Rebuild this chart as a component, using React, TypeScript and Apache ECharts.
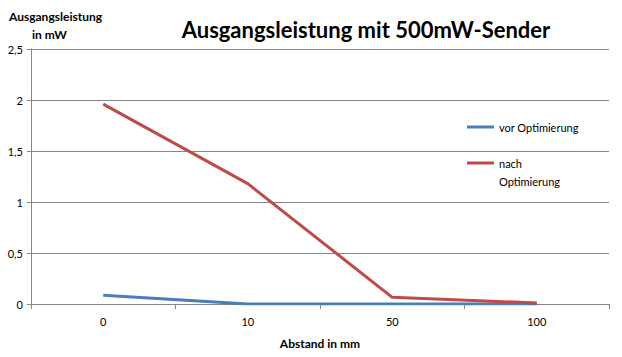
import React, { useEffect, useRef } from "react";
import * as echarts from "echarts";

const categories = ["0", "10", "50", "100"];
const vorOptimierung = [0.085, 0, 0, 0];
const nachOptimierung = [1.96, 1.18, 0.065, 0.01];
const seriesNames = ["vor Optimierung", "nach Optimierung"];

const FONT = "Lato, 'Liberation Sans', sans-serif";

const nameStyle = { fontSize: 12, fontWeight: "bold", fill: "#000", fontFamily: FONT };

export default function App() {
  const ref = useRef<HTMLDivElement>(null);
  useEffect(() => {
    const chart = echarts.init(ref.current!, null, { renderer: "svg" });
    chart.setOption({
      animation: false,
      textStyle: { fontFamily: FONT },
      title: {
        text: "Ausgangsleistung mit 500mW-Sender",
        left: 361,
        textAlign: "center",
        top: 13,
        textStyle: { fontSize: 22, fontWeight: "bold", color: "#000", fontFamily: FONT },
      },
      graphic: [
        { type: "text", left: 9, top: 10, style: { ...nameStyle, text: "Ausgangsleistung" } },
        { type: "text", left: 32, top: 28, style: { ...nameStyle, text: "in mW" } },
      ],
      legend: [
        {
          data: [seriesNames[0]],
          orient: "vertical",
          left: 467,
          top: 118,
          padding: 0,
          itemWidth: 27,
          itemHeight: 3,
          itemGap: 0,
          icon: "rect",
          textStyle: { fontSize: 11, color: "#000", lineHeight: 18, fontFamily: FONT },
        },
        {
          data: [seriesNames[1]],
          orient: "vertical",
          left: 467,
          top: 136,
          padding: 0,
          itemWidth: 27,
          itemHeight: 3,
          icon: "rect",
          formatter: () => " \nnach\nOptimierung",
          textStyle: { fontSize: 11, color: "#000", lineHeight: 18, fontFamily: FONT },
        },
      ],
      grid: { left: 31, right: 13, top: 49, bottom: 53, outerBoundsMode: "none", containLabel: false },
      xAxis: {
        type: "category",
        data: categories,
        boundaryGap: true,
        name: "Abstand in mm",
        nameLocation: "middle",
        nameGap: 33,
        nameTextStyle: { fontSize: 12, fontWeight: "bold", color: "#000", fontFamily: FONT },
        axisLine: { lineStyle: { color: "#868686", width: 1 } },
        axisTick: { show: true, length: 5, lineStyle: { color: "#868686" } },
        axisLabel: { fontSize: 11, color: "#000", margin: 12, fontFamily: FONT },
      },
      yAxis: {
        type: "value",
        min: 0,
        max: 2.5,
        interval: 0.5,
        axisLine: { show: true, lineStyle: { color: "#868686", width: 1 } },
        axisTick: { show: true, length: 4, lineStyle: { color: "#868686" } },
        splitLine: { lineStyle: { color: "#868686", width: 1 } },
        axisLabel: {
          fontSize: 11,
          color: "#000",
          margin: 8,
          fontFamily: FONT,
          formatter: (v: number) => String(v).replace(".", ","),
        },
      },
      series: [
        {
          name: seriesNames[0],
          type: "line",
          data: vorOptimierung,
          symbol: "none",
          lineStyle: { color: "#4a7ebb", width: 3 },
          itemStyle: { color: "#4a7ebb" },
        },
        {
          name: seriesNames[1],
          type: "line",
          data: nachOptimierung,
          symbol: "none",
          lineStyle: { color: "#be4b48", width: 3 },
          itemStyle: { color: "#be4b48" },
        },
      ],
    });
    return () => chart.dispose();
  }, []);
  return <div ref={ref} style={{ width: 622, height: 357, position: "absolute", left: 0, top: 0, background: "#fff" }} />;
}
